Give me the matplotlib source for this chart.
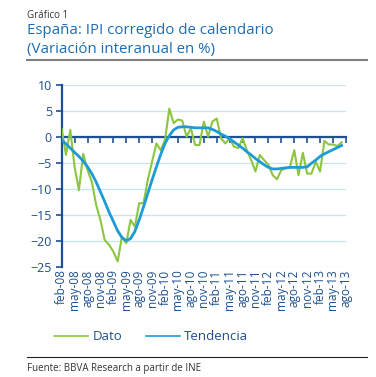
import matplotlib
matplotlib.use("Agg")
import matplotlib.pyplot as plt
from matplotlib.lines import Line2D
import numpy as np

# monthly data feb-08 .. jul-13
dato = [1.5, -3.5, 1.3, -5.8, -10.3, -3.3, -6.4, -8.7, -13.1, -16.0,
        -19.9, -20.8, -22.1, -24.0, -19.2, -20.5, -16.0, -17.3, -12.8, -12.8,
        -8.3, -4.8, -1.3, -2.6, -0.6, 5.4, 2.6, 3.3, 3.1, 0.0,
        1.6, -1.6, -1.6, 2.9, 0.0, 2.9, 3.5, -0.3, -1.3, -0.3,
        -1.9, -2.2, -0.3, -2.6, -4.5, -6.7, -3.5, -4.5, -5.4, -7.4,
        -8.2, -6.4, -6.1, -5.8, -2.6, -7.4, -3.1, -7.1, -7.1, -4.8,
        -6.7, -0.8, -1.5, -1.5, -1.8, -1.1]
tendencia = [-0.6, -1.4, -2.2, -3.0, -3.8, -4.7, -5.8, -7.1, -8.7, -10.6,
             -12.5, -14.5, -16.3, -18.1, -19.4, -20.0, -19.6, -18.2, -16.0, -13.5,
             -10.9, -8.3, -5.8, -3.4, -1.3, 0.2, 1.3, 1.8, 1.9, 1.9,
             1.8, 1.7, 1.7, 1.7, 1.7, 1.4, 1.0, 0.5, 0.1, -0.4,
             -1.0, -1.6, -2.2, -2.9, -3.5, -4.2, -4.8, -5.4, -5.9, -6.2,
             -6.2, -6.1, -6.0, -5.9, -5.9, -5.9, -5.9, -5.8, -5.1, -4.5,
             -3.8, -3.3, -2.9, -2.5, -2.1, -1.7]
tick_labels = ["feb-08", "may-08", "ago-08", "nov-08", "feb-09", "may-09", "ago-09",
               "nov-09", "feb-10", "may-10", "ago-10", "nov-10", "feb-11", "may-11",
               "ago-11", "nov-11", "feb-12", "may-12", "ago-12", "nov-12", "feb-13",
               "may-13", "ago-13"]

plt.rcParams['font.family'] = ['Open Sans', 'DejaVu Sans']
DARK = '#1d4f91'
GREEN = '#8cc63e'
BLUE = '#1e9bd7'

fig = plt.figure(figsize=(3.76, 3.77), dpi=100)
ax = fig.add_axes([0.164, 0.2926, 0.756, 0.4828])

x = np.arange(len(dato))
ax.plot(x, dato, color=GREEN, lw=1.5, zorder=3)
ax.plot(x, tendencia, color=BLUE, lw=2.0, zorder=4)

ax.set_xlim(0, 66)
ax.set_ylim(-25, 10)
ax.set_yticks(np.arange(-25, 11, 5))
ax.grid(axis='y', color='#c8e4f3', lw=0.9)
ax.set_axisbelow(True)

for s in ['top', 'right']:
    ax.spines[s].set_visible(False)
ax.spines['left'].set_color(DARK)
ax.spines['left'].set_linewidth(1.6)
ax.spines['bottom'].set_position(('data', 0))
ax.spines['bottom'].set_color(DARK)
ax.spines['bottom'].set_linewidth(1.6)
ax.spines['bottom'].set_zorder(2)

ax.set_xticks(np.arange(0, 67, 3))
ax.tick_params(axis='x', direction='out', length=4, width=1.2, color=DARK,
               labelbottom=False)
ax.tick_params(axis='y', direction='out', length=4, width=1.2, color=DARK,
               labelcolor=DARK, labelsize=9, pad=3)

sec = ax.secondary_xaxis('bottom')
sec.set_xticks(np.arange(0, 67, 3))
sec.set_xticklabels(tick_labels, rotation=90)
sec.tick_params(length=0, labelcolor=DARK, labelsize=8.5, pad=2)
sec.spines['bottom'].set_visible(False)

fig.text(27/376, 1-16/377, "Gráfico 1", fontsize=7, color='#333333', va='center')
fig.text(27/376, 1-31/377, "España: IPI corregido de calendario", fontsize=10.8,
         color='#1c6db4', va='center')
fig.text(27/376, 1-49/377, "(Variación interanual en %)", fontsize=10.8,
         color='#1c6db4', va='center')
fig.add_artist(Line2D([27/376, 367/376], [1-60/377, 1-60/377],
                      color='#808080', lw=1.5))

handles = [Line2D([], [], color=GREEN, lw=1.2), Line2D([], [], color=BLUE, lw=1.2)]
fig.legend(handles, ['Dato', 'Tendencia'], loc='center left',
           bbox_to_anchor=(54/376, 1-337/377), ncol=2,
           frameon=False, fontsize=9.5, handlelength=2.6, handletextpad=0.3,
           columnspacing=1.8, labelcolor=DARK, borderpad=0, borderaxespad=0)

fig.add_artist(Line2D([27/376, 367/376], [1-357/377, 1-357/377],
                      color='#222222', lw=0.8))
fig.text(27/376, 1-368/377, "Fuente: BBVA Research a partir de INE", fontsize=7,
         color='#333333', va='center')

fig.savefig("out.png", dpi=100)
